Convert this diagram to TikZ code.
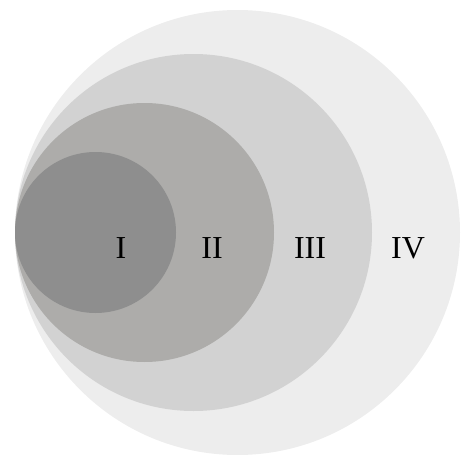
\documentclass[tikz,border=0pt]{standalone}
\usepackage{fontspec}
\setmainfont{Liberation Serif}
\definecolor{cI}{HTML}{8E8E8E}
\definecolor{cII}{HTML}{ADACAA}
\definecolor{cIII}{HTML}{D2D2D2}
\definecolor{cIV}{HTML}{EDEDED}
\tikzset{lbl/.style={font=\fontsize{32}{32}\selectfont, inner sep=0pt, anchor=center}}
\begin{document}
\begin{tikzpicture}[x=1pt,y=-1pt]
\useasboundingbox (0,0) rectangle (461,455);
\fill[cIV] (237.5,232.5) circle (222.5);
\fill[cIII] (193.5,232.5) circle (178.5);
\fill[cII] (144.5,232.5) circle (129.5);
\fill[cI] (95.5,232.5) circle (80.5);
\node[lbl] (l1) at (121,248) {I};
\node[lbl] (l2) at (212,248) {II};
\node[lbl] (l3) at (310,248) {III};
\node[lbl] (l4) at (408,248) {IV};
\end{tikzpicture}
\end{document}
